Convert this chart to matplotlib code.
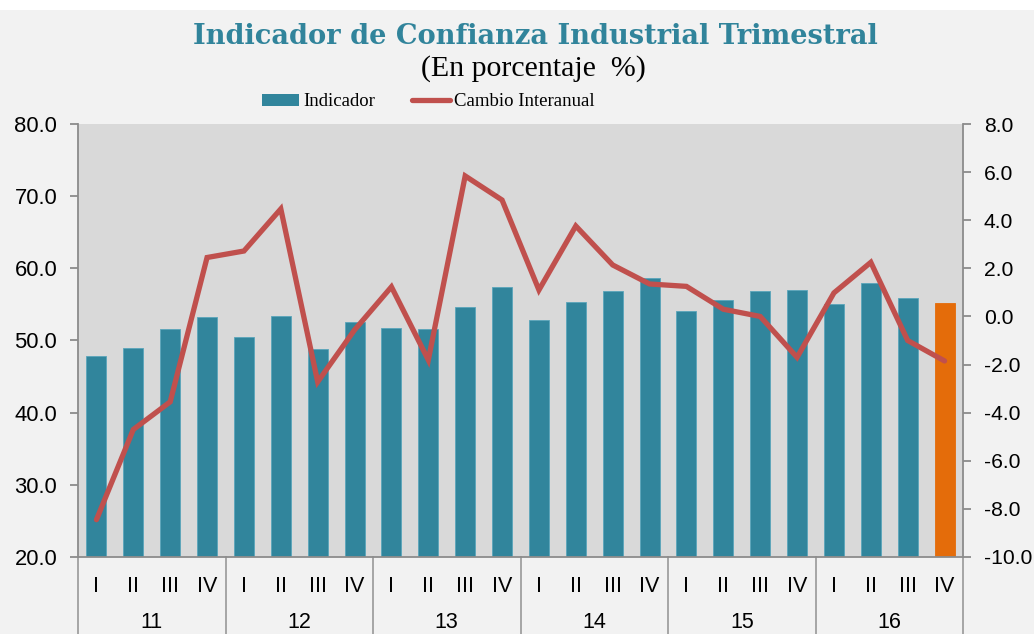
import matplotlib
matplotlib.use("Agg")
import matplotlib.pyplot as plt
import matplotlib.transforms as mtransforms
from matplotlib.patches import Rectangle, Patch
from matplotlib.lines import Line2D
from matplotlib.ticker import FormatStrFormatter, FixedLocator

# ---- data ----
years = ["11", "12", "13", "14", "15", "16"]
quarters = ["I", "II", "III", "IV"]
indicador = [47.8, 49.0, 51.6, 53.3,
             50.5, 53.4, 48.8, 52.6,
             51.7, 51.6, 54.7, 57.4,
             52.9, 55.4, 56.8, 58.7,
             54.1, 55.6, 56.8, 57.0,
             55.1, 57.9, 55.9, 55.2]
cambio = [-8.45, -4.7, -3.55, 2.45,
          2.72, 4.47, -2.72, -0.56,
          1.23, -1.81, 5.84, 4.84,
          1.1, 3.76, 2.14, 1.35,
          1.25, 0.3, 0.0, -1.7,
          0.98, 2.25, -1.0, -1.85]

BLUE = "#31859c"
ORANGE = "#e46c0a"
RED = "#c0504d"
TEAL_TITLE = "#31849b"

plt.rcParams['font.family'] = ['Liberation Sans', 'DejaVu Sans']

fig = plt.figure(figsize=(10.34, 6.34), dpi=100, facecolor="#f2f2f2")
fig.patches.append(Rectangle((0, 1 - 10 / 634), 1, 10 / 634, transform=fig.transFigure,
                             facecolor="white", edgecolor="none", zorder=0))

ax = fig.add_axes([78 / 1034, 1 - 557 / 634, (963 - 78) / 1034, (557 - 124) / 634])
ax.set_facecolor("#d9d9d9")

n = len(indicador)
x = list(range(n))
colors = [BLUE] * (n - 1) + [ORANGE]
ax.bar(x, [v - 20 for v in indicador], bottom=20, width=0.54, color=colors,
       edgecolor=["#5aa5ba"] * (n - 1) + [ORANGE], linewidth=0.6, zorder=2)
ax.set_xlim(-0.5, n - 0.5)
ax.set_ylim(20, 80)
ax.yaxis.set_major_locator(FixedLocator([20, 30, 40, 50, 60, 70, 80]))
ax.yaxis.set_major_formatter(FormatStrFormatter("%.1f"))

ax2 = ax.twinx()
ax2.plot(x, cambio, color=RED, linewidth=3.8, solid_joinstyle="miter",
         solid_capstyle="round", zorder=3)
ax2.set_ylim(-10, 8)
ax2.yaxis.set_major_locator(FixedLocator(list(range(-10, 9, 2))))
ax2.yaxis.set_major_formatter(FormatStrFormatter("%.1f"))

spine_c = "#8c8c8c"
for a in (ax, ax2):
    for s in a.spines.values():
        s.set_color(spine_c)
        s.set_linewidth(1.3)
    a.spines["top"].set_visible(False)
ax.spines["right"].set_visible(False)
ax2.spines["left"].set_visible(False)
ax2.spines["bottom"].set_visible(False)

ax.tick_params(axis="y", direction="out", length=6, width=1.3, color=spine_c,
               labelsize=15.8, pad=9, labelcolor="black")
ax2.tick_params(axis="y", direction="out", length=6, width=1.3, color=spine_c,
                labelsize=15.2, pad=9, labelcolor="black")

# category labels
ax.set_xticks(x)
ax.set_xticklabels(quarters * len(years))
ax.tick_params(axis="x", length=0, labelsize=15.5, pad=14)

trans = mtransforms.blended_transform_factory(ax.transData, ax.transAxes)
for g in range(len(years) + 1):
    xb = g * 4 - 0.5
    ax.add_line(Line2D([xb, xb], [0, -0.4], transform=trans, color="#a0a0a0",
                       linewidth=1.3, clip_on=False))
for g, yr in enumerate(years):
    ax.text(g * 4 + 1.5, -0.151, yr, transform=trans, ha="center", va="center",
            fontsize=15.5)

# titles
fig.text(535 / 1034, 1 - 36 / 634, "Indicador de Confianza Industrial Trimestral",
         ha="center", va="center", fontsize=19.6, fontweight="bold", color=TEAL_TITLE,
         family=["DejaVu Serif"])
fig.text(533 / 1034, 1 - 69 / 634, "(En porcentaje  %)", ha="center", va="center",
         fontsize=21.5, color="black", family=["Liberation Serif", "DejaVu Serif"])

handles = [Patch(facecolor=BLUE, edgecolor="none"),
           Line2D([0], [0], color=RED, linewidth=3.8, solid_capstyle="round")]
fig.legend(handles, ["Indicador", "Cambio Interanual"], loc="center",
           bbox_to_anchor=(428 / 1034, 1 - 102 / 634), ncol=2, frameon=False,
           prop={"family": ["Liberation Serif", "DejaVu Serif"], "size": 13.5},
           handlelength=2.0, handleheight=0.55, handletextpad=0.2, columnspacing=2.0)

fig.savefig("out.png", dpi=100, facecolor=fig.get_facecolor())
